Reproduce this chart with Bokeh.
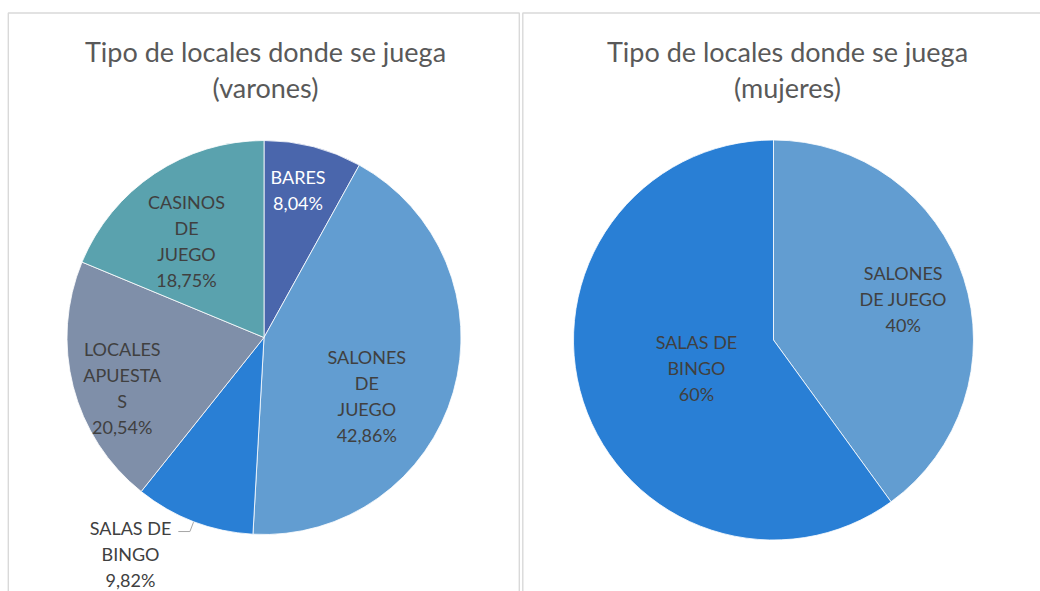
import math
from bokeh.plotting import figure
from bokeh.models import Range1d, ColumnDataSource
from bokeh.core.properties import value
from bokeh.embed import file_html
from bokeh.resources import INLINE

# ---------------- data ----------------
titles = ["Tipo de locales donde se juega\n(varones)", "Tipo de locales donde se juega\n(mujeres)"]

men_categories = ["BARES", "SALONES DE JUEGO", "SALAS DE BINGO", "LOCALES APUESTAS", "CASINOS DE JUEGO"]
men_values = [8.04, 42.86, 9.82, 20.54, 18.75]
men_label_names = ["BARES", "SALONES\nDE\nJUEGO", "SALAS DE\nBINGO", "LOCALES\nAPUESTA\nS", "CASINOS\nDE\nJUEGO"]

women_categories = ["SALONES DE JUEGO", "SALAS DE BINGO"]
women_values = [40, 60]
women_label_names = ["SALONES\nDE JUEGO", "SALAS DE\nBINGO"]

# ---------------- style / layout ----------------
COLORS = {
    "BARES": "#4A66AC",
    "SALONES DE JUEGO": "#629DD1",
    "SALAS DE BINGO": "#297FD5",
    "LOCALES APUESTAS": "#7F8FA9",
    "CASINOS DE JUEGO": "#5AA2AE",
}
W, H = 1040, 591
FONT = "Lato"
LABEL_SIZE = 18
TITLE_SIZE = 27
TEXT_COLOR = "#404040"
TITLE_COLOR = "#595959"
BORDER = "#D9D9D9"

def px(page_x):
    return page_x

def py(page_y):
    return H - page_y

p = figure(width=W, height=H, x_range=Range1d(0, W), y_range=Range1d(0, H),
           output_backend="svg", toolbar_location=None, min_border=0,
           background_fill_color="white", border_fill_color="white")
p.axis.visible = False
p.grid.visible = False
p.outline_line_color = None

# panel borders
p.quad(left=[px(7.8)], right=[px(518.8)], top=[py(12.5)], bottom=[py(620)],
       fill_color=None, line_color=BORDER, line_width=1.4)
p.quad(left=[px(522.3)], right=[px(1080)], top=[py(12.5)], bottom=[py(620)],
       fill_color=None, line_color=BORDER, line_width=1.4)

def fmt_pct(v, decimals):
    return (f"{v:.{decimals}f}".replace(".", ",")) + "%"

def draw_pie(cx, cy, r, cats, vals, names, decimals, label_pos, white_first=False, outside=None):
    total = sum(vals)
    cum = 0.0
    starts, ends, colors, lx, ly, texts, tcolors = [], [], [], [], [], [], []
    for i, (c, v, n) in enumerate(zip(cats, vals, names)):
        f0 = cum / total
        f1 = (cum + v) / total
        cum += v
        starts.append(math.pi / 2 - 2 * math.pi * f0)
        ends.append(math.pi / 2 - 2 * math.pi * f1)
        colors.append(COLORS[c])
        mid = 360 * (f0 + f1) / 2  # clockwise from top, degrees
        frac, nudge = label_pos[i]
        phi = math.radians(mid + nudge)
        lx.append(cx + frac * r * math.sin(phi))
        ly.append(cy + frac * r * math.cos(phi))
        texts.append(n + "\n" + fmt_pct(v, decimals))
        tcolors.append("white" if (white_first and i == 0) else TEXT_COLOR)
        if outside is not None and i == outside:
            m = math.radians(mid)
            ex, ey = cx + r * math.sin(m), cy + r * math.cos(m)
            bx, by = cx + (r + 10.7) * math.sin(m), cy + (r + 10.7) * math.cos(m)
            p.line([ex, bx, bx - 11.6], [ey, by, by], line_color="#A6A6A6", line_width=1)
    src = ColumnDataSource(dict(start=starts, end=ends, color=colors))
    p.wedge(x=cx, y=cy, radius=r, start_angle="start", end_angle="end", direction="clock",
            fill_color="color", line_color="white", line_width=0.8, source=src)
    tsrc = ColumnDataSource(dict(x=lx, y=ly, text=texts, color=tcolors))
    p.text(x="x", y="y", text="text", source=tsrc, text_color="color",
           text_font=value(FONT), text_font_size=f"{LABEL_SIZE}px", text_align="center",
           text_baseline="middle", text_line_height=25.5 / (1.2 * LABEL_SIZE))

draw_pie(px(263.5), py(337), 197, men_categories, men_values, men_label_names, 2,
         [(0.77, -1.5), (0.60, 13.5), (1.29, 10.8), (0.764, -5.2), (0.63, -4.9)],
         white_first=True, outside=2)
draw_pie(px(773), py(339.5), 200, women_categories, women_values, women_label_names, 0,
         [(0.68, 0.5), (0.41, -2.0)])

# titles
p.text(x=[px(265), px(787)], y=[py(69), py(69)], text=titles,
       text_font=value(FONT), text_font_size=f"{TITLE_SIZE}px", text_color=TITLE_COLOR,
       text_align="center", text_baseline="middle", text_line_height=36 / (1.2 * TITLE_SIZE))

open("out.html", "w").write(file_html(p, INLINE))
